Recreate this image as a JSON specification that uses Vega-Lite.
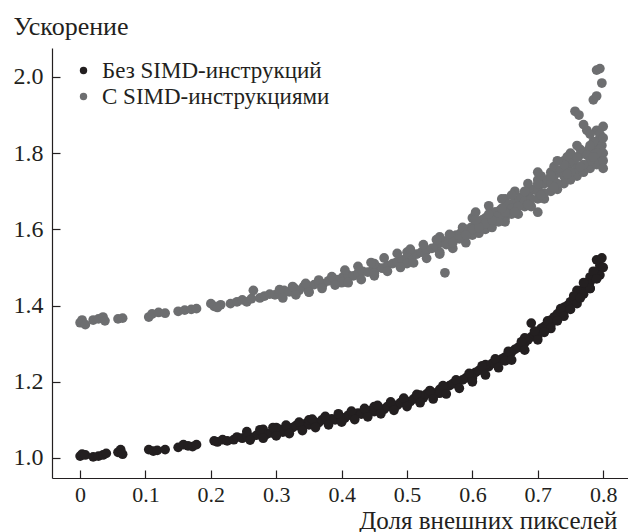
{
  "$schema": "https://vega.github.io/schema/vega-lite/v6.json",
  "width": 576,
  "height": 430,
  "autosize": "none",
  "padding": {"left": 52, "top": 48, "right": 0, "bottom": 54},
  "config": {
    "view": {"stroke": null},
    "font": "'Liberation Serif', 'Times New Roman', serif",
    "axis": {"grid": false}
  },
  "datasets": {
    "b": [
      {"x":0.0,"y":1.005},{"x":0.003,"y":1.01},{"x":0.008,"y":1.008},{"x":0.02,"y":1.003},{"x":0.028,"y":1.005},{"x":0.035,"y":1.008},{"x":0.04,"y":1.012},{"x":0.058,"y":1.015},{"x":0.062,"y":1.022},{"x":0.065,"y":1.01},
      {"x":0.105,"y":1.022},{"x":0.112,"y":1.018},{"x":0.118,"y":1.02},{"x":0.13,"y":1.022},{"x":0.15,"y":1.028},{"x":0.158,"y":1.035},{"x":0.165,"y":1.032},{"x":0.172,"y":1.03},{"x":0.178,"y":1.035},
      {"x":0.205,"y":1.045},{"x":0.21,"y":1.042},{"x":0.218,"y":1.048},{"x":0.225,"y":1.045},{"x":0.235,"y":1.048},{"x":0.24,"y":1.055},{"x":0.248,"y":1.052},{"x":0.255,"y":1.058},{"x":0.262,"y":1.054},{"x":0.27,"y":1.06},
      {"x":0.278,"y":1.068},{"x":0.28,"y":1.075},{"x":0.285,"y":1.062},{"x":0.292,"y":1.066},{"x":0.3,"y":1.07},{"x":0.305,"y":1.075},{"x":0.31,"y":1.068},{"x":0.318,"y":1.078},{"x":0.325,"y":1.08},{"x":0.33,"y":1.085},
      {"x":0.338,"y":1.082},{"x":0.345,"y":1.09},{"x":0.35,"y":1.087},{"x":0.358,"y":1.095},{"x":0.365,"y":1.093},{"x":0.37,"y":1.1},{"x":0.378,"y":1.098},{"x":0.385,"y":1.103},{"x":0.39,"y":1.1},{"x":0.398,"y":1.108},
      {"x":0.405,"y":1.105},{"x":0.41,"y":1.112},{"x":0.418,"y":1.11},{"x":0.425,"y":1.118},{"x":0.43,"y":1.115},{"x":0.438,"y":1.12},{"x":0.445,"y":1.125},{"x":0.45,"y":1.122},{"x":0.458,"y":1.13},{"x":0.465,"y":1.128},
      {"x":0.47,"y":1.135},{"x":0.478,"y":1.14},{"x":0.485,"y":1.138},{"x":0.49,"y":1.145},{"x":0.498,"y":1.15},{"x":0.505,"y":1.148},{"x":0.51,"y":1.155},{"x":0.518,"y":1.16},{"x":0.525,"y":1.158},{"x":0.53,"y":1.168},
      {"x":0.538,"y":1.172},{"x":0.545,"y":1.17},{"x":0.55,"y":1.18},{"x":0.558,"y":1.185},{"x":0.565,"y":1.19},{"x":0.57,"y":1.195},{"x":0.578,"y":1.2},{"x":0.585,"y":1.205},{"x":0.59,"y":1.21},{"x":0.598,"y":1.22},
      {"x":0.605,"y":1.225},{"x":0.61,"y":1.23},{"x":0.618,"y":1.235},{"x":0.625,"y":1.24},{"x":0.63,"y":1.248},{"x":0.638,"y":1.252},{"x":0.645,"y":1.26},{"x":0.65,"y":1.265},{"x":0.655,"y":1.272},{"x":0.66,"y":1.278},
      {"x":0.665,"y":1.285},{"x":0.67,"y":1.29},{"x":0.675,"y":1.298},{"x":0.68,"y":1.302},{"x":0.685,"y":1.31},{"x":0.69,"y":1.318},{"x":0.695,"y":1.325},{"x":0.7,"y":1.33},{"x":0.705,"y":1.34},{"x":0.71,"y":1.345},
      {"x":0.715,"y":1.355},{"x":0.72,"y":1.362},{"x":0.725,"y":1.37},{"x":0.73,"y":1.378},{"x":0.735,"y":1.385},{"x":0.74,"y":1.395},{"x":0.745,"y":1.4},{"x":0.75,"y":1.41},{"x":0.755,"y":1.418},{"x":0.76,"y":1.425},
      {"x":0.765,"y":1.435},{"x":0.77,"y":1.445},{"x":0.775,"y":1.455},{"x":0.78,"y":1.462},{"x":0.785,"y":1.475},{"x":0.79,"y":1.49},{"x":0.795,"y":1.505},{"x":0.79,"y":1.52},{"x":0.798,"y":1.525},
      {"x":0.3,"y":1.08},{"x":0.35,"y":1.1},{"x":0.4,"y":1.1},{"x":0.45,"y":1.135},{"x":0.5,"y":1.14},{"x":0.52,"y":1.165},{"x":0.55,"y":1.17},{"x":0.6,"y":1.21},{"x":0.62,"y":1.245},{"x":0.65,"y":1.255},
      {"x":0.68,"y":1.315},{"x":0.7,"y":1.32},{"x":0.72,"y":1.35},{"x":0.74,"y":1.385},{"x":0.76,"y":1.44},{"x":0.78,"y":1.445},{"x":0.78,"y":1.475},{"x":0.77,"y":1.43},{"x":0.69,"y":1.354},
      {"x":0.255,"y":1.069},{"x":0.275,"y":1.074},{"x":0.295,"y":1.08},{"x":0.315,"y":1.086},{"x":0.335,"y":1.094},{"x":0.355,"y":1.102},{"x":0.375,"y":1.109},{"x":0.395,"y":1.116},{"x":0.415,"y":1.123},{"x":0.435,"y":1.13},
      {"x":0.455,"y":1.138},{"x":0.475,"y":1.147},{"x":0.495,"y":1.157},{"x":0.515,"y":1.167},{"x":0.535,"y":1.177},{"x":0.555,"y":1.19},{"x":0.575,"y":1.205},{"x":0.595,"y":1.222},{"x":0.615,"y":1.242},{"x":0.635,"y":1.26},
      {"x":0.655,"y":1.28},{"x":0.675,"y":1.305},{"x":0.695,"y":1.333},{"x":0.715,"y":1.36},{"x":0.735,"y":1.392},{"x":0.755,"y":1.425},{"x":0.775,"y":1.46},
      {"x":0.26,"y":1.047},{"x":0.28,"y":1.052},{"x":0.3,"y":1.058},{"x":0.32,"y":1.064},{"x":0.34,"y":1.072},{"x":0.36,"y":1.08},{"x":0.38,"y":1.087},{"x":0.4,"y":1.094},{"x":0.42,"y":1.101},{"x":0.44,"y":1.108},
      {"x":0.46,"y":1.116},{"x":0.48,"y":1.125},{"x":0.5,"y":1.135},{"x":0.52,"y":1.145},{"x":0.54,"y":1.155},{"x":0.56,"y":1.168},{"x":0.58,"y":1.183},{"x":0.6,"y":1.2},{"x":0.62,"y":1.218},{"x":0.64,"y":1.237},
      {"x":0.66,"y":1.257},{"x":0.68,"y":1.283},{"x":0.7,"y":1.31},{"x":0.72,"y":1.34},{"x":0.74,"y":1.372},{"x":0.76,"y":1.405},{"x":0.78,"y":1.445},{"x":0.795,"y":1.48},
      {"x":0.77,"y":1.46},{"x":0.785,"y":1.49},{"x":0.79,"y":1.47},{"x":0.8,"y":1.5},{"x":0.73,"y":1.36},{"x":0.71,"y":1.33},{"x":0.75,"y":1.39},{"x":0.765,"y":1.42}
    ],
    "g": [
      {"x":0.0,"y":1.355},{"x":0.003,"y":1.362},{"x":0.008,"y":1.35},{"x":0.02,"y":1.362},{"x":0.028,"y":1.365},{"x":0.035,"y":1.37},{"x":0.038,"y":1.36},{"x":0.058,"y":1.365},{"x":0.065,"y":1.367},
      {"x":0.105,"y":1.37},{"x":0.11,"y":1.378},{"x":0.12,"y":1.382},{"x":0.13,"y":1.38},{"x":0.15,"y":1.385},{"x":0.16,"y":1.388},{"x":0.17,"y":1.39},{"x":0.178,"y":1.392},
      {"x":0.2,"y":1.405},{"x":0.205,"y":1.398},{"x":0.21,"y":1.395},{"x":0.215,"y":1.402},{"x":0.23,"y":1.405},{"x":0.24,"y":1.41},{"x":0.248,"y":1.415},{"x":0.255,"y":1.41},{"x":0.262,"y":1.418},{"x":0.265,"y":1.44},
      {"x":0.275,"y":1.42},{"x":0.282,"y":1.425},{"x":0.29,"y":1.43},{"x":0.298,"y":1.428},{"x":0.305,"y":1.435},{"x":0.312,"y":1.44},{"x":0.32,"y":1.436},{"x":0.328,"y":1.445},{"x":0.335,"y":1.44},{"x":0.342,"y":1.45},
      {"x":0.35,"y":1.448},{"x":0.358,"y":1.455},{"x":0.365,"y":1.46},{"x":0.372,"y":1.457},{"x":0.38,"y":1.465},{"x":0.388,"y":1.47},{"x":0.395,"y":1.468},{"x":0.402,"y":1.475},{"x":0.41,"y":1.48},{"x":0.418,"y":1.478},
      {"x":0.425,"y":1.485},{"x":0.432,"y":1.49},{"x":0.44,"y":1.488},{"x":0.448,"y":1.495},{"x":0.455,"y":1.5},{"x":0.462,"y":1.498},{"x":0.47,"y":1.505},{"x":0.478,"y":1.51},{"x":0.485,"y":1.515},{"x":0.492,"y":1.52},
      {"x":0.5,"y":1.525},{"x":0.508,"y":1.53},{"x":0.515,"y":1.535},{"x":0.522,"y":1.54},{"x":0.53,"y":1.545},{"x":0.538,"y":1.55},{"x":0.545,"y":1.555},{"x":0.552,"y":1.565},{"x":0.56,"y":1.57},{"x":0.568,"y":1.575},
      {"x":0.575,"y":1.585},{"x":0.582,"y":1.59},{"x":0.59,"y":1.6},{"x":0.598,"y":1.605},{"x":0.605,"y":1.615},{"x":0.612,"y":1.62},{"x":0.62,"y":1.63},{"x":0.628,"y":1.635},{"x":0.635,"y":1.645},{"x":0.642,"y":1.65},
      {"x":0.65,"y":1.66},{"x":0.658,"y":1.665},{"x":0.665,"y":1.675},{"x":0.672,"y":1.68},{"x":0.68,"y":1.69},{"x":0.688,"y":1.7},{"x":0.695,"y":1.705},{"x":0.702,"y":1.715},{"x":0.71,"y":1.72},{"x":0.718,"y":1.73},
      {"x":0.725,"y":1.74},{"x":0.732,"y":1.75},{"x":0.74,"y":1.76},{"x":0.748,"y":1.77},{"x":0.755,"y":1.78},{"x":0.762,"y":1.79},{"x":0.77,"y":1.8},{"x":0.778,"y":1.81},{"x":0.785,"y":1.82},{"x":0.79,"y":1.83},{"x":0.795,"y":1.84},
      {"x":0.35,"y":1.435},{"x":0.4,"y":1.46},{"x":0.45,"y":1.485},{"x":0.5,"y":1.51},{"x":0.55,"y":1.54},{"x":0.6,"y":1.585},{"x":0.62,"y":1.6},{"x":0.65,"y":1.63},{"x":0.68,"y":1.66},{"x":0.7,"y":1.68},
      {"x":0.72,"y":1.7},{"x":0.74,"y":1.72},{"x":0.76,"y":1.74},{"x":0.78,"y":1.76},{"x":0.79,"y":1.775},{"x":0.795,"y":1.79},{"x":0.8,"y":1.8},{"x":0.798,"y":1.82},
      {"x":0.45,"y":1.51},{"x":0.5,"y":1.54},{"x":0.55,"y":1.58},{"x":0.6,"y":1.63},{"x":0.65,"y":1.68},{"x":0.7,"y":1.73},{"x":0.72,"y":1.75},{"x":0.74,"y":1.78},{"x":0.75,"y":1.8},
      {"x":0.558,"y":1.486},{"x":0.7,"y":1.645},{"x":0.757,"y":1.91},{"x":0.763,"y":1.9},{"x":0.785,"y":1.94},{"x":0.79,"y":1.95},{"x":0.798,"y":1.984},{"x":0.79,"y":2.018},{"x":0.795,"y":2.022},
      {"x":0.775,"y":1.86},{"x":0.79,"y":1.86},{"x":0.8,"y":1.87},{"x":0.795,"y":1.85},{"x":0.77,"y":1.875},
      {"x":0.305,"y":1.442},{"x":0.325,"y":1.45},{"x":0.345,"y":1.458},{"x":0.365,"y":1.467},{"x":0.385,"y":1.476},{"x":0.405,"y":1.493},{"x":0.425,"y":1.503},{"x":0.445,"y":1.513},{"x":0.465,"y":1.525},{"x":0.485,"y":1.537},
      {"x":0.505,"y":1.548},{"x":0.525,"y":1.56},{"x":0.545,"y":1.573},{"x":0.565,"y":1.587},{"x":0.585,"y":1.605},{"x":0.605,"y":1.645},{"x":0.625,"y":1.662},{"x":0.645,"y":1.68},{"x":0.665,"y":1.7},{"x":0.685,"y":1.72},
      {"x":0.705,"y":1.74},{"x":0.725,"y":1.765},{"x":0.745,"y":1.79},{"x":0.765,"y":1.81},{"x":0.785,"y":1.83},
      {"x":0.31,"y":1.42},{"x":0.33,"y":1.428},{"x":0.35,"y":1.436},{"x":0.37,"y":1.445},{"x":0.39,"y":1.454},{"x":0.41,"y":1.46},{"x":0.43,"y":1.468},{"x":0.45,"y":1.478},{"x":0.47,"y":1.49},{"x":0.49,"y":1.5},
      {"x":0.51,"y":1.512},{"x":0.53,"y":1.524},{"x":0.55,"y":1.535},{"x":0.57,"y":1.55},{"x":0.59,"y":1.565},{"x":0.61,"y":1.59},{"x":0.63,"y":1.605},{"x":0.65,"y":1.62},{"x":0.67,"y":1.64},{"x":0.69,"y":1.66},
      {"x":0.71,"y":1.68},{"x":0.73,"y":1.705},{"x":0.75,"y":1.73},{"x":0.77,"y":1.75},{"x":0.79,"y":1.77},
      {"x":0.615,"y":1.625},{"x":0.635,"y":1.645},{"x":0.655,"y":1.665},{"x":0.675,"y":1.685},{"x":0.695,"y":1.705},{"x":0.715,"y":1.73},{"x":0.735,"y":1.755},{"x":0.755,"y":1.775},{"x":0.775,"y":1.795},{"x":0.795,"y":1.81},
      {"x":0.78,"y":1.78},{"x":0.76,"y":1.76},{"x":0.74,"y":1.74},{"x":0.72,"y":1.72},{"x":0.7,"y":1.7},{"x":0.68,"y":1.675},{"x":0.66,"y":1.655},{"x":0.64,"y":1.635},
      {"x":0.56,"y":1.56},{"x":0.58,"y":1.575},{"x":0.6,"y":1.6},{"x":0.62,"y":1.615},{"x":0.64,"y":1.62},{"x":0.66,"y":1.64},{"x":0.68,"y":1.7},{"x":0.7,"y":1.72},{"x":0.72,"y":1.74},{"x":0.74,"y":1.77},
      {"x":0.76,"y":1.79},{"x":0.78,"y":1.82},{"x":0.8,"y":1.84},{"x":0.8,"y":1.78},{"x":0.79,"y":1.8},{"x":0.77,"y":1.77},{"x":0.75,"y":1.75},{"x":0.73,"y":1.72},{"x":0.71,"y":1.695},{"x":0.69,"y":1.68},
      {"x":0.67,"y":1.66},{"x":0.65,"y":1.645},{"x":0.63,"y":1.625},{"x":0.61,"y":1.605},{"x":0.59,"y":1.585},{"x":0.57,"y":1.565},{"x":0.66,"y":1.69},{"x":0.7,"y":1.75},{"x":0.73,"y":1.78},{"x":0.76,"y":1.82},
      {"x":0.78,"y":1.85},{"x":0.8,"y":1.76},{"x":0.785,"y":1.79},{"x":0.765,"y":1.765},{"x":0.745,"y":1.745},{"x":0.725,"y":1.71},{"x":0.705,"y":1.69},{"x":0.685,"y":1.665},{"x":0.665,"y":1.645},{"x":0.645,"y":1.655},
      {"x":0.625,"y":1.64},{"x":0.605,"y":1.625}
    ]
  },
  "data": {"name": "b"},
  "transform": [
    {"calculate": "'Без SIMD-инструкций'", "as": "Серия"}
  ],
  "layer": [
    {
      "mark": {"type": "circle", "size": 95, "opacity": 1},
      "encoding": {
        "x": {"field": "x", "type": "quantitative"},
        "y": {"field": "y", "type": "quantitative"},
        "color": {"field": "Серия", "type": "nominal"}
      }
    },
    {
      "data": {"name": "g"},
      "transform": [
        {"calculate": "'С SIMD-инструкциями'", "as": "Серия"}
      ],
      "mark": {"type": "circle", "size": 95, "opacity": 1},
      "encoding": {
        "x": {"field": "x", "type": "quantitative"},
        "y": {"field": "y", "type": "quantitative"},
        "color": {"field": "Серия", "type": "nominal"}
      }
    }
  ],
  "resolve": {"scale": {"color": "shared"}},
  "encoding": {
    "x": {
      "field": "x", "type": "quantitative",
      "scale": {"domain": [-0.043, 0.838], "nice": false, "zero": false},
      "axis": {
        "values": [0, 0.1, 0.2, 0.3, 0.4, 0.5, 0.6, 0.7, 0.8],
        "labelExpr": "datum.value == 0 ? '0' : format(datum.value, '.1f')",
        "title": "Доля внешних пикселей",
        "titleFont": "'Liberation Serif', 'Times New Roman', serif", "titleFontSize": 25, "titleFontWeight": "normal", "titleColor": "#231f20",
        "titleAlign": "right", "titleAnchor": "end", "titleBaseline": "alphabetic", "titleX": 565, "titleY": 50,
        "labelFont": "'Liberation Serif', 'Times New Roman', serif", "labelFontSize": 22, "labelColor": "#231f20", "labelPadding": 14,
        "tickSize": -8, "tickColor": "#231f20", "tickWidth": 1.2,
        "domainColor": "#231f20", "domainWidth": 1.2
      }
    },
    "y": {
      "field": "y", "type": "quantitative",
      "scale": {"domain": [0.9475, 2.076], "nice": false, "zero": false},
      "axis": {
        "values": [1.0, 1.2, 1.4, 1.6, 1.8, 2.0],
        "format": ".1f",
        "title": "Ускорение",
        "titleFont": "'Liberation Serif', 'Times New Roman', serif", "titleFontSize": 26, "titleFontWeight": "normal", "titleColor": "#231f20",
        "titleAngle": 0, "titleAlign": "left", "titleAnchor": "start", "titleBaseline": "alphabetic", "titleX": -39, "titleY": -14,
        "labelFont": "'Liberation Serif', 'Times New Roman', serif", "labelFontSize": 24, "labelColor": "#231f20", "labelPadding": 17,
        "tickSize": -8, "tickColor": "#231f20", "tickWidth": 1.2,
        "domainColor": "#231f20", "domainWidth": 1.2
      }
    },
    "color": {
      "field": "Серия", "type": "nominal",
      "scale": {"domain": ["Без SIMD-инструкций", "С SIMD-инструкциями"], "range": ["#231f20", "#6d6e70"]},
      "legend": {
        "title": null, "orient": "none", "legendX": 20, "legendY": 11,
        "symbolType": "circle", "symbolSize": 55, "symbolStrokeWidth": 0, "symbolOpacity": 1,
        "labelFont": "'Liberation Serif', 'Times New Roman', serif", "labelFontSize": 23, "labelColor": "#231f20", "labelLimit": 0,
        "rowPadding": 2, "labelOffset": 7
      }
    }
  }
}
